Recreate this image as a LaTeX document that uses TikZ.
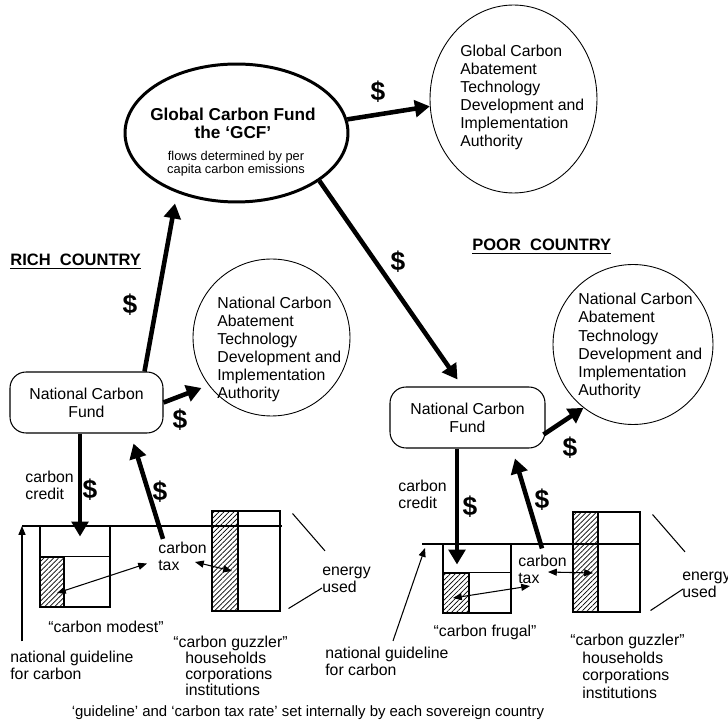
\documentclass[tikz,border=0pt]{standalone}
\usepackage{fontspec}
\setmainfont{Liberation Sans}
\usetikzlibrary{arrows.meta,shapes.geometric,patterns.meta,positioning}

\tikzset{
    flow/.style={
      -{Triangle[length=8.5pt,width=9.5pt]},
      line width=2.6pt
    },
    thin both/.style={
      {Triangle[length=5pt,width=4pt]}-{Triangle[length=5pt,width=4pt]},
      line width=0.6pt
    },
    thin arrow/.style={
      -{Triangle[length=5pt,width=4pt]},
      line width=0.6pt
    },
    fund box/.style={
      draw, rounded corners=0.32cm,
      minimum height=1.22cm,
      align=center, line width=0.6pt,
      font=\fontsize{9}{10.3}\selectfont
    },
    auth shape/.style={
      draw, line width=0.5pt, inner sep=0pt
    },
    auth text/.style={
      align=left, inner sep=0pt,
      font=\fontsize{9}{10.3}\selectfont
    },
    dollar/.style={
      inner sep=0pt,
      font=\fontsize{15}{15}\selectfont\bfseries
    },
    lbl/.style={
      align=left, inner sep=0pt,
      font=\fontsize{9}{9.6}\selectfont
    },
    use box/.style={
      draw, line width=0.6pt, inner sep=0pt
    },
    hatch box/.style={
      draw, line width=0.9pt, inner sep=0pt,
      pattern={Lines[angle=45,distance=2pt,line width=0.4pt]}
    },
    country/.style={
      anchor=west, inner sep=0pt,
      font=\fontsize{9.4}{10}\selectfont\bfseries
    }
  }

\begin{document}
\begin{tikzpicture}[x=0.02cm,y=-0.02cm]
  \useasboundingbox (0,0) rectangle (728,726);

  % global level
  \node[auth shape, ellipse, line width=1.7pt, minimum width=4.46cm, minimum height=2.76cm] (gcf) at (236.5,133) {};
  \node[inner sep=0pt, align=center, font=\fontsize{9.8}{10.2}\selectfont\bfseries] (gcfTitle) at (233,123)
    {Global\ Carbon\ Fund\\the ‘GCF’};
  \node[inner sep=0pt, align=center, font=\fontsize{7.3}{7.5}\selectfont] (gcfNote) at (236,163.5)
    {flows determined by per\\capita carbon emissions};
  \node[auth shape, ellipse, minimum width=3.34cm, minimum height=3.76cm] (gauth) at (513.5,99) {};
  \node[auth text, anchor=west] (gauthT) at (460,97.5)
    {Global Carbon\\Abatement\\Technology\\Development and\\Implementation\\Authority};

  % countries
  \node[country] (rich) at (10,262) {\underline{RICH\ \ COUNTRY}};
  \node[country] (poor) at (472,247) {\underline{POOR\ \ COUNTRY}};

  % national funds and authorities
  \node[fund box, minimum width=3.06cm] (ncfR) at (86.5,402.5) {National Carbon\\Fund};
  \node[fund box, minimum width=3.1cm] (ncfP) at (467.5,417.5) {National Carbon\\Fund};
  \node[auth shape, circle, minimum size=3.14cm] (nauthR) at (271.5,337.5) {};
  \node[auth text, anchor=west] (nauthRT) at (217,349.5)
    {National Carbon\\Abatement\\Technology\\Development and\\Implementation\\Authority};
  \node[auth shape, circle, minimum size=3.2cm] (nauthP) at (633,344.5) {};
  \node[auth text, anchor=west] (nauthPT) at (578,346)
    {National Carbon\\Abatement\\Technology\\Development and\\Implementation\\Authority};

  % rich country boxes
  \coordinate (baseR) at (22,526);
  \coordinate (baseRend) at (282,526);
  \node[use box, minimum width=1.4cm, minimum height=1.62cm] (modR) at (75,566.5) {};
  \node[hatch box, minimum width=0.48cm, minimum height=1.0cm] (hatM) at (52,582) {};
  \draw[line width=0.6pt] (hatM.north west) -- (hatM.north west -| modR.east);
  \node[use box, minimum width=1.36cm, minimum height=2.0cm] (guzR) at (246,561) {};
  \node[hatch box, minimum width=0.52cm, minimum height=2.0cm] (hatGR) at (225,561) {};
  \draw[line width=0.6pt] (baseR) -- (baseRend);

  % poor country boxes
  \coordinate (baseP) at (422,544);
  \coordinate (basePend) at (640,544);
  \node[use box, minimum width=1.36cm, minimum height=1.38cm] (froP) at (477,578.5) {};
  \node[hatch box, minimum width=0.52cm, minimum height=0.8cm] (hatF) at (456,593) {};
  \draw[line width=0.6pt] (hatF.north west) -- (hatF.north west -| froP.east);
  \node[use box, minimum width=1.34cm, minimum height=2.0cm] (guzP) at (606.5,562) {};
  \node[hatch box, minimum width=0.5cm, minimum height=2.0cm] (hatGP) at (585.5,562) {};
  \draw[line width=0.6pt] (baseP) -- (basePend);

  % labels
  \node[lbl, anchor=west] (credR) at (25,485.5) {carbon\\credit};
  \node[lbl, anchor=west] (taxR) at (158,556.5) {carbon\\tax};
  \node[lbl, anchor=west] (enR) at (322,580) {energy\\used};
  \node[lbl, anchor=west] (guiR) at (10,665) {national guideline\\for carbon};
  \node[lbl] (modestL) at (106,627) {“carbon modest”};
  \node[lbl, anchor=west, font=\fontsize{9}{9.1}\selectfont] (guzRL) at (173,666)
    {“carbon guzzler”\\\hspace*{6.8pt}households\\\hspace*{6.8pt}corporations\\\hspace*{6.8pt}institutions};

  \node[lbl, anchor=west] (credP) at (398,494.5) {carbon\\credit};
  \node[lbl, anchor=west] (taxP) at (518,569) {carbon\\tax};
  \node[lbl, anchor=west] (enP) at (682,585) {energy\\used};
  \node[lbl, anchor=west] (guiP) at (325,661.5) {national guideline\\for carbon};
  \node[lbl] (frugalL) at (485,632) {“carbon frugal”};
  \node[lbl, anchor=west, font=\fontsize{9}{10}\selectfont] (guzPL) at (570,666.5)
    {“carbon guzzler”\\\hspace*{6.8pt}households\\\hspace*{6.8pt}corporations\\\hspace*{6.8pt}institutions};

  \node[inner sep=0pt, font=\fontsize{8.5}{9}\selectfont] (note) at (308,713)
    {‘guideline’ and ‘carbon tax rate’ set internally by each sovereign country};

  % money flows
  \draw[flow] (gcf.7) -- (gauth.185);
  \draw[flow] (gcf.-30) -- ([shift={(-10,-7)}]ncfP.north);
  \draw[flow] ([shift={(58,0)}]ncfR.north) -- ([shift={(-61.5,0)}]gcf.south);
  \draw[flow] (ncfR.east) -- ([shift={(-7,3)}]nauthR.217);
  \draw[flow] ([shift={(-2,17)}]ncfP.east) -- (nauthP.232);
  \draw[flow] ([shift={(-6.5,0)}]ncfR.south) -- ([shift={(5,11)}]modR.north);
  \draw[flow] ([shift={(5,-3)}]taxR.north west) -- ([shift={(47,10)}]ncfR.south);
  \draw[flow] ([shift={(-10.5,0)}]ncfP.south) -- ([shift={(-20,21)}]froP.north);
  \draw[flow] ([shift={(24,-6)}]taxP.north west) -- ([shift={(47.5,10)}]ncfP.south);

  \node[dollar] (d1) at (378,92) {\$};
  \node[dollar] (d2) at (398,262) {\$};
  \node[dollar] (d3) at (130,305) {\$};
  \node[dollar] (d4) at (180,420) {\$};
  \node[dollar] (d5) at (90,490) {\$};
  \node[dollar] (d6) at (160,492) {\$};
  \node[dollar] (d7) at (570,448) {\$};
  \node[dollar] (d8) at (470,507) {\$};
  \node[dollar] (d9) at (542,500) {\$};

  % tax links
  \draw[thin both] ([shift={(5,11)}]hatM.center) -- ([shift={(-11,7)}]taxR.west);
  \draw[thin both] ([shift={(37,5.5)}]taxR.west) -- ([shift={(7,10)}]hatGR.center);
  \draw[thin both] ([shift={(-3,5)}]hatF.center) -- ([shift={(12,17)}]taxP.west);
  \draw[thin both] ([shift={(30,3)}]taxP.west) -- ([shift={(7.5,11)}]hatGP.center);

  % energy and guideline pointers
  \draw[line width=0.6pt] ([shift={(12,3)}]guzR.north east) -- ([shift={(3,-16)}]enR.north west);
  \draw[line width=0.6pt] ([shift={(8,-3)}]guzR.south east) -- ([shift={(0,8)}]enR.west);
  \draw[line width=0.6pt] ([shift={(12,3)}]guzP.north east) -- ([shift={(3,-20)}]enP.north west);
  \draw[line width=0.6pt] ([shift={(10,-2)}]guzP.south east) -- ([shift={(1,4)}]enP.west);
  \draw[thin arrow] ([shift={(12,-9)}]guiR.north west) -- (baseR);
  \draw[thin arrow] ([shift={(68,-6)}]guiP.north west) -- ([shift={(3,4)}]baseP);
\end{tikzpicture}
\end{document}
